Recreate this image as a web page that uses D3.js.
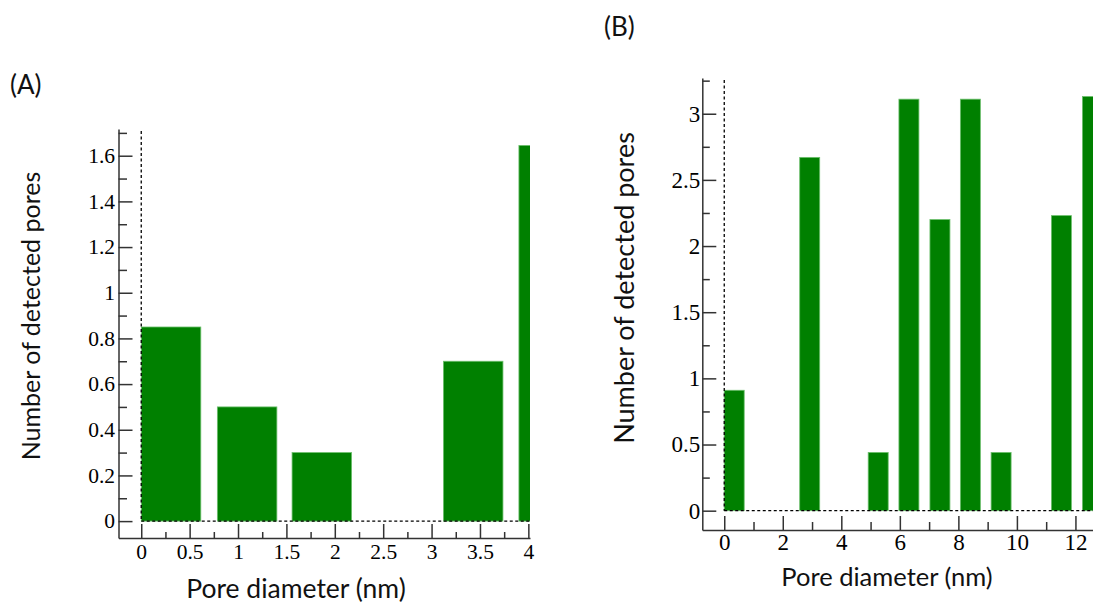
<!DOCTYPE html>
<html><head><meta charset="utf-8">
<script src="https://cdn.jsdelivr.net/npm/d3@7"></script>
<style>body{margin:0;background:#fff}svg{display:block}</style>
</head><body><svg id="c" width="1093" height="603"></svg>
<script>
// ---- Panel A data ----
const binCentersA = [0.308, 1.094, 1.866, 3.43, 4.21];
const poresA = [0.85, 0.5, 0.3, 0.7, 1.645];
const binWidthA = 0.615;
const xTicksA = [0, 0.5, 1, 1.5, 2, 2.5, 3, 3.5, 4];
const xMinorA = [0.25, 0.75, 1.25, 1.75, 2.25, 2.75, 3.25, 3.75];
const yTicksA = [0, 0.2, 0.4, 0.6, 0.8, 1, 1.2, 1.4, 1.6];
const yMinorA = [0.1, 0.3, 0.5, 0.7, 0.9, 1.1, 1.3, 1.5, 1.7];

// ---- Panel B data ----
const binCentersB = [0.34, 2.92, 5.26, 6.31, 7.37, 8.41, 9.46, 11.52, 12.58];
const poresB = [0.91, 2.67, 0.44, 3.11, 2.2, 3.11, 0.44, 2.23, 3.13];
const binWidthB = 0.683;
const xTicksB = [0, 2, 4, 6, 8, 10, 12];
const xMinorB = [1, 3, 5, 7, 9, 11];
const yTicksB = [0, 0.5, 1, 1.5, 2, 2.5, 3];
const yMinorB = [0.25, 0.75, 1.25, 1.75, 2.25, 2.75, 3.25];

// ---- Text ----
const panelLabels = ["(A)", "(B)"];
const xTitle = "Pore diameter (nm)";
const yTitle = "Number of detected pores";

const svg = d3.select("#c");
const fmt = d3.format("~g");
const AX = "#333";

function panel(cfg) {
  const x = d3.scaleLinear().domain(cfg.xDom).range(cfg.xRange);
  const y = d3.scaleLinear().domain(cfg.yDom).range(cfg.yRange);
  const g = svg.append("g");

  const clipId = "clip" + cfg.id;
  svg.append("clipPath").attr("id", clipId).append("rect")
    .attr("x", cfg.xRange[0]).attr("y", cfg.yRange[1])
    .attr("width", cfg.xRange[1] - cfg.xRange[0])
    .attr("height", cfg.yRange[0] - cfg.yRange[1]);

  // bars
  g.append("g").attr("clip-path", `url(#${clipId})`)
    .selectAll("rect").data(cfg.centers).join("rect")
    .attr("x", d => x(d - cfg.width / 2))
    .attr("width", d => x(d + cfg.width / 2) - x(d - cfg.width / 2))
    .attr("y", (d, i) => y(cfg.values[i]))
    .attr("height", (d, i) => y(0) - y(cfg.values[i]))
    .attr("fill", "#008000")
    .attr("stroke", "#6cbf6c").attr("stroke-width", 0.8);

  // dashed zero lines
  g.append("line").attr("x1", x(0)).attr("x2", x(0))
    .attr("y1", cfg.yRange[1] + 2).attr("y2", y(0))
    .attr("stroke", "#000").attr("stroke-width", 1.3).attr("stroke-dasharray", "3,2.5");
  g.append("line").attr("x1", x(0)).attr("x2", cfg.xRange[1])
    .attr("y1", y(0)).attr("y2", y(0))
    .attr("stroke", "#000").attr("stroke-width", 1.3).attr("stroke-dasharray", "3,2.5");

  // y axis
  const ya = g.append("g").attr("transform", `translate(${cfg.xRange[0]},0)`)
    .call(d3.axisLeft(y).tickValues(cfg.yTicks).tickFormat(fmt)
      .tickSizeInner(-14).tickSizeOuter(0).tickPadding(cfg.yPad));
  g.append("g").attr("transform", `translate(${cfg.xRange[0]},0)`)
    .call(d3.axisLeft(y).tickValues(cfg.yMinor).tickFormat("")
      .tickSizeInner(-cfg.yMinorLen).tickSizeOuter(0))
    .select(".domain").remove();
  // x axis
  const xa = g.append("g").attr("transform", `translate(0,${cfg.yRange[0]})`)
    .call(d3.axisBottom(x).tickValues(cfg.xTicks).tickFormat(fmt)
      .tickSizeInner(-14).tickSizeOuter(0).tickPadding(cfg.xPad));
  g.append("g").attr("transform", `translate(0,${cfg.yRange[0]})`)
    .call(d3.axisBottom(x).tickValues(cfg.xMinor).tickFormat("")
      .tickSizeInner(-cfg.xMinorLen).tickSizeOuter(0))
    .select(".domain").remove();

  g.selectAll(".domain, .tick line").attr("stroke", AX).attr("stroke-width", 1.5);
  [ya, xa].forEach(a => a.selectAll("text")
    .attr("font-family", "'Liberation Serif', 'Times New Roman', serif")
    .attr("font-size", cfg.tickFont).attr("fill", "#000"));

  // titles
  g.append("text").attr("x", cfg.xTitlePos[0]).attr("y", cfg.xTitlePos[1])
    .attr("text-anchor", "middle").attr("font-family", "Lato, 'Open Sans', sans-serif")
    .attr("font-size", cfg.titleFont).attr("fill", "#111").text(xTitle);
  g.append("text")
    .attr("transform", `translate(${cfg.yTitlePos[0]},${cfg.yTitlePos[1]}) rotate(-90)`)
    .attr("text-anchor", "middle").attr("font-family", "Lato, 'Open Sans', sans-serif")
    .attr("font-size", cfg.yTitleFont).attr("fill", "#111").text(yTitle);
  g.append("text").attr("x", cfg.labelPos[0]).attr("y", cfg.labelPos[1])
    .attr("font-family", "Lato, 'Open Sans', sans-serif")
    .attr("font-size", 26).attr("fill", "#111").text(cfg.label);
}

panel({
  id: "A", label: panelLabels[0], centers: binCentersA, values: poresA, width: binWidthA,
  xDom: [-0.235, 4.017], xRange: [118.5, 530],
  yDom: [-0.074, 1.717], yRange: [538, 129],
  xTicks: xTicksA, xMinor: xMinorA, yTicks: yTicksA, yMinor: yMinorA,
  xMinorLen: 6, yMinorLen: 8.5, xPad: 6, yPad: 3.5, tickFont: 21.5,
  titleFont: 26.5, yTitleFont: 25,
  xTitlePos: [296, 597.5], yTitlePos: [39.5, 316], labelPos: [10, 94]
});
panel({
  id: "B", label: panelLabels[1], centers: binCentersB, values: poresB, width: binWidthB,
  xDom: [-0.75, 12.6], xRange: [702.3, 1093],
  yDom: [-0.146, 3.27], yRange: [530, 78],
  xTicks: xTicksB, xMinor: xMinorB, yTicks: yTicksB, yMinor: yMinorB,
  xMinorLen: 8, yMinorLen: 7.5, xPad: 4, yPad: 2, tickFont: 23,
  titleFont: 25.5, yTitleFont: 27,
  xTitlePos: [887, 586], yTitlePos: [634, 288], labelPos: [604, 36]
});
</script></body></html>
